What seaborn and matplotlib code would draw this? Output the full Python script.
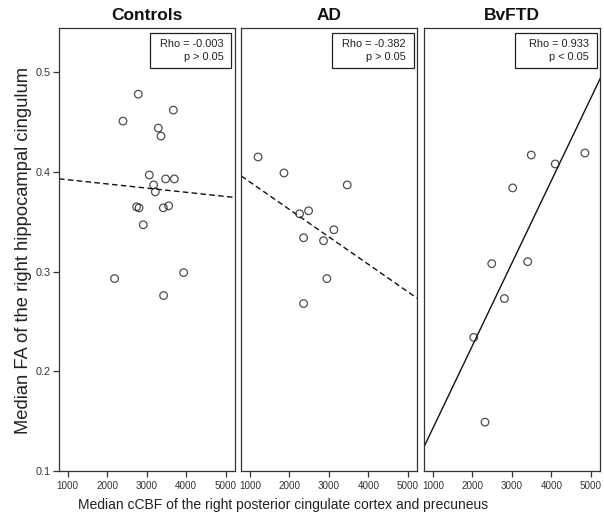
import matplotlib
matplotlib.use("Agg")
import matplotlib.pyplot as plt
from matplotlib.patches import Rectangle
import seaborn as sns
import pandas as pd
import numpy as np

sns.set_theme(style="white")
plt.rcParams['font.family'] = ['Liberation Sans', 'DejaVu Sans']

# ---- data ----
groups = ["Controls", "AD", "BvFTD"]

controls_cbf = [2790, 3676, 2402, 3296, 3364, 3068, 3481, 3701, 3177, 3220,
                2747, 2808, 3423, 3557, 2916, 3937, 2190, 3430]
controls_fa = [0.478, 0.462, 0.451, 0.444, 0.436, 0.397, 0.393, 0.393, 0.387, 0.380,
               0.365, 0.364, 0.364, 0.366, 0.347, 0.299, 0.293, 0.276]

ad_cbf = [1209, 1864, 3463, 2486, 2259, 3126, 2360, 2864, 2948, 2360]
ad_fa = [0.415, 0.399, 0.387, 0.361, 0.358, 0.342, 0.334, 0.331, 0.293, 0.268]

bvftd_cbf = [4846, 3490, 4096, 3020, 3399, 2490, 2809, 2035, 2320]
bvftd_fa = [0.419, 0.417, 0.408, 0.384, 0.310, 0.308, 0.273, 0.234, 0.149]

rho_labels = ["Rho = -0.003", "Rho = -0.382", "Rho = 0.933"]
p_labels = ["p > 0.05", "p > 0.05", "p < 0.05"]
line_styles = ["dashed", "dashed", "solid"]

x_ticks = [1000, 2000, 3000, 4000, 5000]
y_ticks = [0.1, 0.2, 0.3, 0.4, 0.5]

xlabel = "Median cCBF of the right posterior cingulate cortex and precuneus"
ylabel = "Median FA of the right hippocampal cingulum"

df = pd.concat([
    pd.DataFrame({"group": g, "cbf": x, "fa": y})
    for g, x, y in zip(groups, [controls_cbf, ad_cbf, bvftd_cbf],
                       [controls_fa, ad_fa, bvftd_fa])
], ignore_index=True)

# ---- figure ----
W, H = 604, 519
fig = plt.figure(figsize=(W / 100, H / 100), dpi=100)
fig.patch.set_facecolor("white")

lefts = [59, 241.3, 424.3]
ax_w, ax_bottom, ax_top = 176, 471, 28
edge = "#333333"
axes = []
for i, g in enumerate(groups):
    ax = fig.add_axes([lefts[i] / W, (H - ax_bottom) / H, ax_w / W, (ax_bottom - ax_top) / H])
    axes.append(ax)
    ax.set_facecolor("white")
    ax.set_xlim(785, 5235)
    ax.set_ylim(0.1, 0.5444)
    sub = df[df["group"] == g]
    ls = (0, (4.0, 2.4)) if line_styles[i] == "dashed" else "solid"
    sns.regplot(data=sub, x="cbf", y="fa", ax=ax, ci=None, truncate=False,
                scatter_kws=dict(s=30, facecolors="none", edgecolors="#222222",
                                 linewidths=0.9, zorder=3),
                line_kws=dict(color="#111111", lw=1.0, linestyle=ls, zorder=2))
    ax.set_xlim(785, 5235)
    ax.set_ylim(0.1, 0.5444)
    for s in ax.spines.values():
        s.set_visible(True)
        s.set_color(edge)
        s.set_linewidth(0.9)
    ax.set_xticks(x_ticks)
    ax.set_xticklabels([str(t) for t in x_ticks], fontsize=7.1, color="#333333")
    ax.tick_params(axis="x", bottom=True, direction="out", length=4.5, width=0.9,
                   color=edge, pad=2.5)
    if i == 0:
        ax.set_yticks(y_ticks)
        ax.set_yticklabels([f"{t:.1f}" for t in y_ticks], fontsize=7.8, color="#333333")
        ax.tick_params(axis="y", left=True, direction="out", length=4.5, width=0.9,
                       color=edge, pad=1.5)
    else:
        ax.set_yticks([])
    ax.set_xlabel("")
    ax.set_ylabel("")
    ax.set_title(g, fontsize=12.5, fontweight="bold", color="#111111", pad=6)

    # correlation box
    ax.add_patch(Rectangle((0.515, 0.909), 0.465, 0.080, transform=ax.transAxes,
                           facecolor="white", edgecolor="#222222", lw=0.9, zorder=5))
    ax.text(0.935, 0.964, rho_labels[i], transform=ax.transAxes, ha="right", va="center",
            fontsize=7.9, color="#222222", zorder=6)
    ax.text(0.935, 0.934, p_labels[i], transform=ax.transAxes, ha="right", va="center",
            fontsize=7.9, color="#222222", zorder=6)

fig.text(24 / W, 1 - 250 / H, ylabel, rotation=90, ha="center", va="center",
         fontsize=13.2, color="#222222")
fig.text(283 / W, 1 - 505 / H, xlabel, ha="center", va="center",
         fontsize=10, color="#222222")

fig.savefig("out.png", dpi=100, facecolor="white")
